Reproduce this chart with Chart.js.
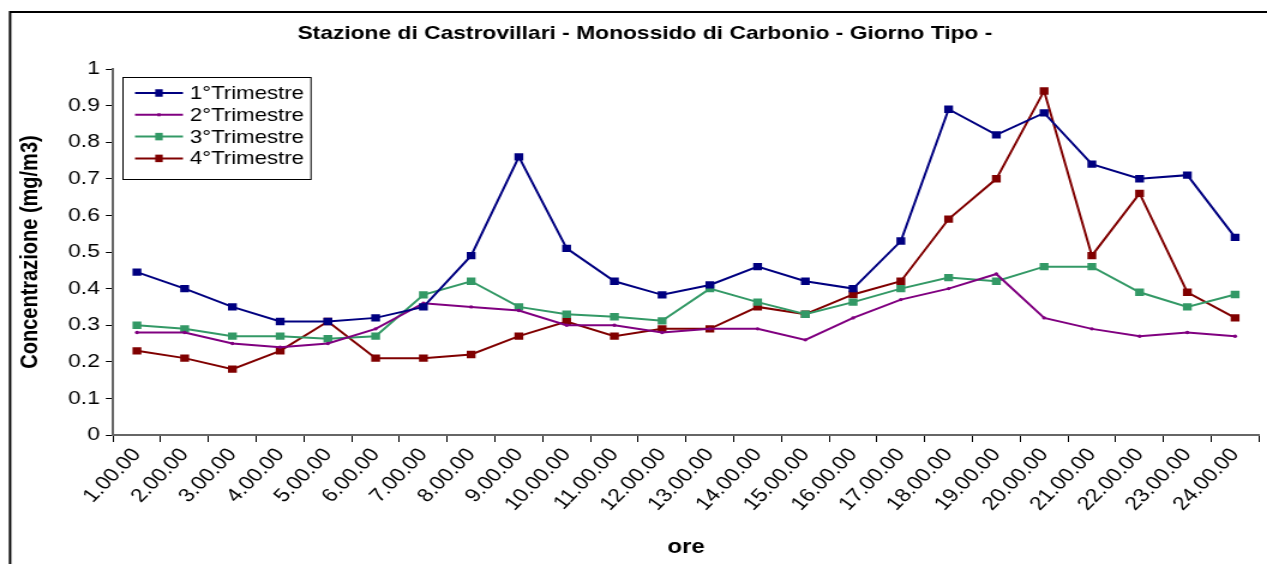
<!DOCTYPE html>
<html>
<head>
  <title>Stazione di Castrovillari - Monossido di Carbonio</title>
  <script src="https://cdn.jsdelivr.net/npm/chart.js@4.4.0/dist/chart.umd.min.js"></script>
  <style>
    body { margin: 0; background: #fff; }
    canvas { display: block; }
  </style>
</head>
<body>
  <!-- l'originale e' allargato in orizzontale: disegno a 1056 e stiro a 1267 -->
  <canvas id="chart" width="1056" height="564" style="width:1267px;height:564px"></canvas>

  <script>
    // ore del giorno
    const ore = ['1.00.00', '2.00.00', '3.00.00', '4.00.00', '5.00.00', '6.00.00',
      '7.00.00', '8.00.00', '9.00.00', '10.00.00', '11.00.00', '12.00.00',
      '13.00.00', '14.00.00', '15.00.00', '16.00.00', '17.00.00', '18.00.00',
      '19.00.00', '20.00.00', '21.00.00', '22.00.00', '23.00.00', '24.00.00'];

    // concentrazioni (mg/m3) per trimestre
    const trim1 = [0.445, 0.40, 0.35, 0.31, 0.31, 0.32, 0.35, 0.49, 0.76, 0.51, 0.42, 0.383,
      0.41, 0.46, 0.42, 0.40, 0.53, 0.89, 0.82, 0.88, 0.74, 0.70, 0.71, 0.54];
    const trim2 = [0.28, 0.28, 0.25, 0.24, 0.25, 0.29, 0.36, 0.35, 0.34, 0.30, 0.30, 0.28,
      0.29, 0.29, 0.26, 0.32, 0.37, 0.40, 0.44, 0.32, 0.29, 0.27, 0.28, 0.27];
    const trim3 = [0.30, 0.29, 0.27, 0.27, 0.263, 0.27, 0.383, 0.42, 0.35, 0.33, 0.323, 0.312,
      0.40, 0.363, 0.33, 0.363, 0.40, 0.43, 0.42, 0.46, 0.46, 0.39, 0.35, 0.384];
    const trim4 = [0.23, 0.21, 0.18, 0.23, 0.31, 0.21, 0.21, 0.22, 0.27, 0.31, 0.27, 0.29,
      0.29, 0.35, 0.33, 0.384, 0.42, 0.59, 0.70, 0.94, 0.49, 0.66, 0.39, 0.32];

    const nomiSerie = ['1°Trimestre', '2°Trimestre', '3°Trimestre', '4°Trimestre'];
    const colori = ['#000080', '#800080', '#339966', '#800000'];

    const FONT = 'Arial, "Liberation Sans", sans-serif';

    // sfondo, cornice, titolo e legenda disegnati a mano (coordinate del canvas non stirato)
    const decorazioni = {
      id: 'decorazioni',
      beforeDraw(chart) {
        const ctx = chart.ctx;
        ctx.save();
        ctx.fillStyle = '#fff';
        ctx.fillRect(0, 0, chart.width, chart.height);
        ctx.strokeStyle = '#000';
        ctx.lineWidth = 2;
        ctx.strokeRect(8.4, 12, chart.width + 20, chart.height + 20);
        ctx.fillStyle = '#000';
        ctx.font = 'bold 19px ' + FONT;
        ctx.textAlign = 'center';
        ctx.textBaseline = 'middle';
        ctx.fillText('Stazione di Castrovillari - Monossido di Carbonio - Giorno Tipo -', 537.5, 34);
        ctx.restore();
      },
      afterDraw(chart) {
        const ctx = chart.ctx;
        ctx.save();
        ctx.fillStyle = '#fff';
        ctx.fillRect(102.5, 77, 156.7, 102);
        ctx.strokeStyle = '#000';
        ctx.lineWidth = 1;
        ctx.strokeRect(102.5, 77.5, 156.7, 102);
        ctx.font = '18.5px ' + FONT;
        ctx.textBaseline = 'middle';
        chart.data.datasets.forEach((ds, i) => {
          const y = 93 + i * 21.8;
          ctx.strokeStyle = ds.borderColor;
          ctx.lineWidth = 2;
          ctx.beginPath();
          ctx.moveTo(112.5, y);
          ctx.lineTo(152.5, y);
          ctx.stroke();
          ctx.fillStyle = ds.borderColor;
          const h = i === 1 ? 3 : 7.5;
          const w = h / 1.2;
          ctx.fillRect(132.5 - w / 2, y - h / 2, w, h);
          ctx.fillStyle = '#000';
          ctx.fillText(ds.label, 158.3, y + 1);
        });
        ctx.restore();
      }
    };

    function serie(i, dati) {
      return {
        label: nomiSerie[i],
        data: dati,
        borderColor: colori[i],
        backgroundColor: colori[i],
        borderWidth: 2,
        pointStyle: i === 1 ? 'circle' : 'rect',
        pointRadius: i === 1 ? 1.7 : 5.2,
        pointBorderWidth: 0,
        tension: 0
      };
    }

    new Chart(document.getElementById('chart'), {
      type: 'line',
      data: {
        labels: ore,
        datasets: [serie(0, trim1), serie(1, trim2), serie(2, trim3), serie(3, trim4)]
      },
      options: {
        responsive: false,
        animation: false,
        devicePixelRatio: 1,
        layout: { padding: { left: 8.4, right: 6.7, top: 69, bottom: 0 } },
        plugins: { legend: { display: false }, tooltip: { enabled: false } },
        scales: {
          x: {
            type: 'category',
            offset: true,
            border: { color: '#666', width: 2 },
            grid: { drawOnChartArea: false, offset: true, color: '#000', tickLength: 7 },
            ticks: {
              autoSkip: false, minRotation: 50, maxRotation: 50,
              color: '#000', font: { family: FONT, size: 19 }, padding: 2
            },
            title: {
              display: true, text: 'ore', color: '#000',
              font: { family: FONT, size: 20, weight: 'bold' }, padding: { top: 0, bottom: 5 }
            },
            afterFit(scale) { scale.height = 129; }
          },
          y: {
            min: 0, max: 1,
            border: { color: '#666', width: 2 },
            grid: { drawOnChartArea: false, color: '#000', tickLength: 6 },
            ticks: {
              stepSize: 0.1, color: '#000', font: { family: FONT, size: 19 }, padding: 5,
              callback: v => String(+v.toFixed(1))
            },
            title: {
              display: true, text: 'Concentrazione (mg/m3)', color: '#000',
              font: { family: FONT, size: 20, weight: 'bold' }, padding: { top: 5, bottom: 0 }
            },
            afterFit(scale) { scale.width = 85.8; }
          }
        }
      },
      plugins: [decorazioni]
    });
  </script>
</body>
</html>
